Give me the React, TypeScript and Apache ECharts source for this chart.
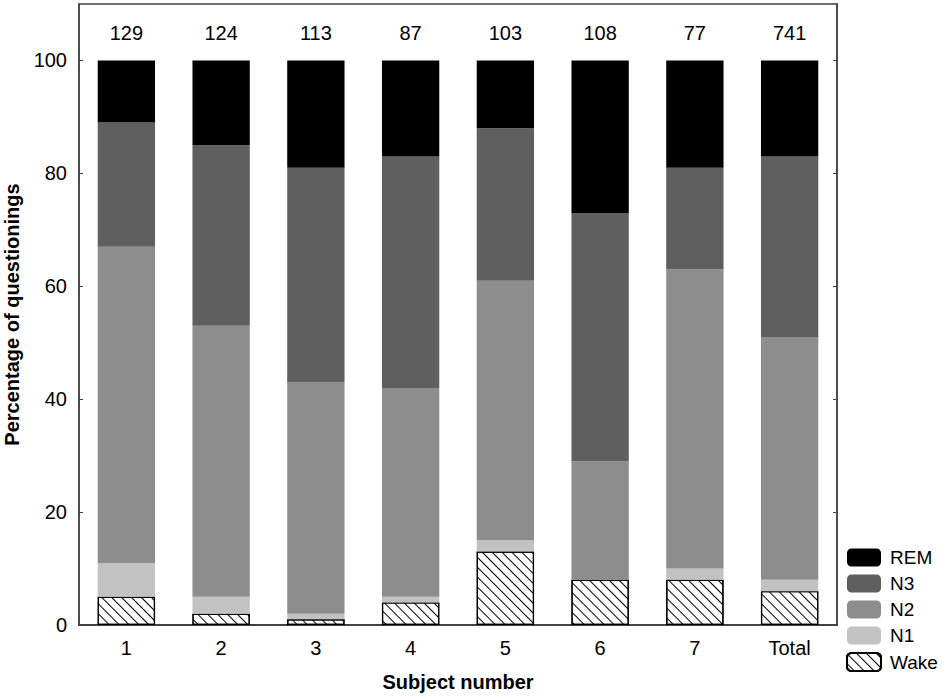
import React, { useEffect, useRef } from "react";
import * as echarts from "echarts";

const categories = ["1", "2", "3", "4", "5", "6", "7", "Total"];
const counts = [129, 124, 113, 87, 103, 108, 77, 741];
const wake = [5, 2, 1, 4, 13, 8, 8, 6];
const n1 = [6, 3, 1, 1, 2, 0, 2, 2];
const n2 = [56, 48, 41, 37, 46, 21, 53, 43];
const n3 = [22, 32, 38, 41, 27, 44, 18, 32];
const rem = [11, 15, 19, 17, 12, 27, 19, 17];
const yTicks = [0, 20, 40, 60, 80, 100];

export default function App() {
  const ref = useRef<HTMLDivElement>(null);
  useEffect(() => {
    if (!ref.current) return;
    const chart = echarts.init(ref.current, undefined, { renderer: "svg" });
    const font = "Liberation Sans, Arial, sans-serif";
    const axisColor = "#404040";
    const base = {
      type: "bar" as const,
      stack: "s",
      barWidth: "60.5%",
    };
    chart.setOption({
      animation: false,
      backgroundColor: "#fff",
      textStyle: { fontFamily: font },
      grid: {
        left: 79,
        top: 4,
        right: 108,
        bottom: 73,
        show: true,
        borderColor: axisColor,
        borderWidth: 1.5,
        outerBoundsMode: "none",
        containLabel: false,
      },
      legend: {
        orient: "vertical",
        left: 846,
        top: 548,
        padding: 0,
        itemWidth: 34,
        itemHeight: 18,
        itemGap: 7,
        data: ["REM", "N3", "N2", "N1", "Wake"],
        textStyle: { fontSize: 19, color: "#000", fontFamily: font, padding: [0, 0, 0, 4] },
      },
      xAxis: [
        {
          type: "category",
          data: categories,
          position: "bottom",
          axisLine: { lineStyle: { color: axisColor, width: 1.5 } },
          axisTick: { inside: true, length: 4, alignWithLabel: true, lineStyle: { color: axisColor } },
          axisLabel: { fontSize: 20, color: "#000", margin: 13, fontFamily: font },
          name: "Subject number",
          nameLocation: "middle",
          nameGap: 47,
          nameTextStyle: { fontSize: 20, fontWeight: "bold", color: "#000", fontFamily: font },
        },
        {
          type: "category",
          data: categories,
          position: "top",
          axisLine: { lineStyle: { color: axisColor, width: 1.5 } },
          axisTick: { inside: true, length: 4, alignWithLabel: true, lineStyle: { color: axisColor } },
          axisLabel: { show: false },
        },
      ],
      yAxis: [
        {
          type: "value",
          min: 0,
          max: 110,
          interval: 20,
          position: "left",
          splitLine: { show: false },
          axisLine: { show: true, lineStyle: { color: axisColor, width: 1.5 } },
          axisTick: { show: true, inside: true, length: 4, customValues: yTicks, lineStyle: { color: axisColor } },
          axisLabel: { fontSize: 20, color: "#000", margin: 12, customValues: yTicks, fontFamily: font },
          name: "Percentage of questionings",
          nameLocation: "middle",
          nameGap: 57,
          nameTextStyle: { fontSize: 20, fontWeight: "bold", color: "#000", fontFamily: font },
        },
        {
          type: "value",
          min: 0,
          max: 110,
          interval: 20,
          position: "right",
          splitLine: { show: false },
          axisLine: { show: true, lineStyle: { color: axisColor, width: 1.5 } },
          axisTick: { show: true, inside: true, length: 4, customValues: yTicks, lineStyle: { color: axisColor } },
          axisLabel: { show: false },
        },
      ],
      series: [
        {
          ...base,
          name: "Wake",
          data: wake,
          itemStyle: {
            color: "#ffffff",
            borderColor: "#000",
            borderWidth: 1.2,
            decal: {
              symbol: "rect",
              color: "#000",
              backgroundColor: "#fff",
              dashArrayX: [1, 0],
              dashArrayY: [0.8, 5.8],
              rotation: Math.PI / 4,
            },
          },
        },
        { ...base, name: "N1", data: n1, itemStyle: { color: "#c2c2c2" } },
        { ...base, name: "N2", data: n2, itemStyle: { color: "#8d8d8d" } },
        { ...base, name: "N3", data: n3, itemStyle: { color: "#5f5f5f" } },
        {
          ...base,
          name: "REM",
          data: rem,
          itemStyle: { color: "#000000" },
          label: {
            show: true,
            position: "top",
            distance: 17,
            fontSize: 20,
            color: "#000",
            fontFamily: font,
            formatter: (p: any) => String(counts[p.dataIndex]),
          },
        },
      ],
    });
    return () => chart.dispose();
  }, []);
  return (
    <div
      ref={ref}
      style={{ position: "fixed", left: 0, top: 0, width: 945, height: 698 }}
    />
  );
}
